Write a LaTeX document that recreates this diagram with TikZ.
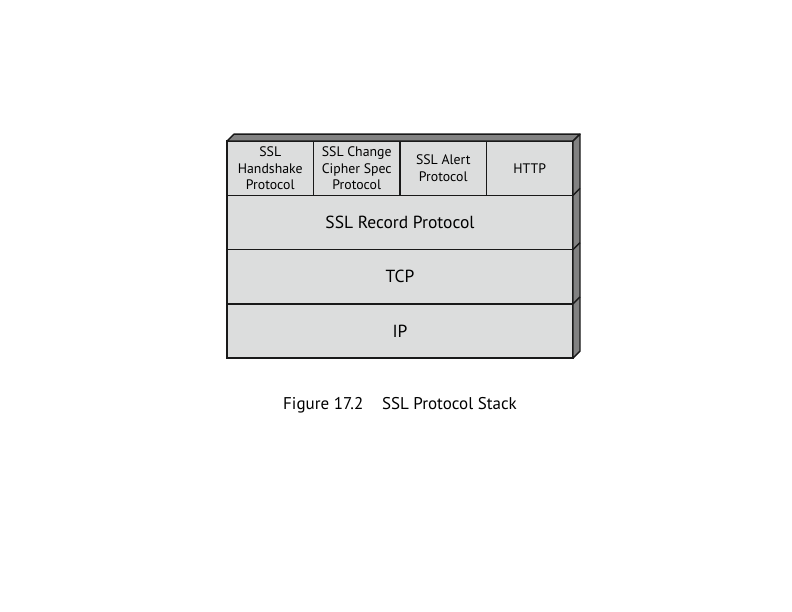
\documentclass[tikz,border=0pt]{standalone}
\usepackage{fontspec}
\setmainfont{PT Sans}
\usetikzlibrary{positioning}

\definecolor{face}{RGB}{220,221,221}
\definecolor{shade}{RGB}{130,130,130}

\tikzset{
  layer/.style={draw=black!90, fill=face, line width=1.4pt, outer sep=0pt, inner sep=0pt,
    minimum width=346pt, minimum height=54.25pt, font=\fontsize{17.5}{20}\selectfont},
  cell/.style={layer, minimum width=86.5pt, align=center,
    font=\fontsize{13.8}{16.8}\selectfont}
}

\begin{document}
\begin{tikzpicture}[x=1pt,y=-1pt]
\useasboundingbox (0,0) rectangle (792,612);

\def\D{7pt}
% Couches
  \node[layer] (ip) at (400,331) {IP};
  \node[layer, above=0pt of ip] (tcp) {TCP};
  \node[layer, above=0pt of tcp] (record) {SSL Record Protocol};

% Protocoles du haut
  \node[cell, anchor=south west] (hs) at (record.north west) {SSL\\Handshake\\Protocol};
  \node[cell, right=0pt of hs] (ccs) {SSL Change\\Cipher Spec\\Protocol};
  \node[cell, right=0pt of ccs] (alert) {SSL Alert\\Protocol};
  \node[cell, right=0pt of alert] (http) {HTTP};

% Relief
  \draw[fill=shade, line width=1.4pt, draw=black!90, line join=round]
    (hs.north west) -- ++(\D,\D) -- ([shift={(\D,\D)}]http.north east) -- (http.north east) -- cycle;
  \draw[fill=shade, line width=1.4pt, draw=black!90, line join=round]
    (http.north east) -- ++(\D,\D) -- ([shift={(\D,\D)}]ip.south east) -- (ip.south east) -- cycle;
  \foreach \n in {record, tcp, ip}
  \draw[line width=1.4pt, draw=black!90] (\n.north east) -- ++(\D,\D);

% Legende
  \node (caption) at (400,405) {\fontsize{17}{20}\selectfont Figure 17.2\hspace{1.1em}SSL Protocol Stack};
\end{tikzpicture}
\end{document}
